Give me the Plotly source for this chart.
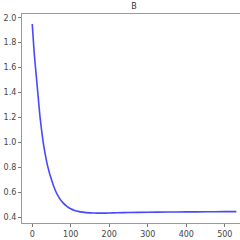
import plotly.graph_objects as go

iterations = [0, 5, 10, 15, 20, 25, 30, 40, 50, 60, 70, 80, 90, 100, 110, 120,
              130, 140, 150, 160, 170, 180, 200, 220, 250, 300, 350, 400, 450, 500, 530]
values_b = [1.95, 1.72, 1.55, 1.38, 1.21, 1.08, 0.97, 0.81, 0.70, 0.615, 0.555, 0.515,
            0.488, 0.468, 0.455, 0.447, 0.441, 0.437, 0.435, 0.434, 0.433, 0.433,
            0.434, 0.436, 0.438, 0.440, 0.442, 0.443, 0.444, 0.445, 0.445]
title_text = "B"
x_ticks = [0, 100, 200, 300, 400, 500]
y_ticks = [0.4, 0.6, 0.8, 1.0, 1.2, 1.4, 1.6, 1.8, 2.0]

fig = go.Figure()
fig.add_trace(go.Scatter(x=iterations, y=values_b, mode="lines",
                         line=dict(color="rgba(40,40,255,0.85)", width=1.6, shape="spline", smoothing=0.6),
                         showlegend=False))

axis_common = dict(showgrid=False, zeroline=False, showline=True, linecolor="#9a9a9a",
                   linewidth=1.2, ticks="outside", ticklen=3, tickcolor="#777",
                   tickfont=dict(family="DejaVu Sans", size=8, color="#444"))

fig.update_layout(
    width=240, height=240,
    margin=dict(l=22, r=0, t=14, b=17),
    paper_bgcolor="white", plot_bgcolor="white",
    title=dict(text=title_text, x=134/240, xref="container", xanchor="center",
               y=1-6/240, yref="container", yanchor="middle",
               font=dict(family="DejaVu Sans", size=8, color="#333")),
    xaxis=dict(range=[-26.6, 539.5], tickvals=x_ticks, mirror=True, **axis_common),
    yaxis=dict(range=[0.354, 2.03], tickvals=y_ticks, tickformat=".1f", **axis_common),
)

fig.write_html("out.html")
